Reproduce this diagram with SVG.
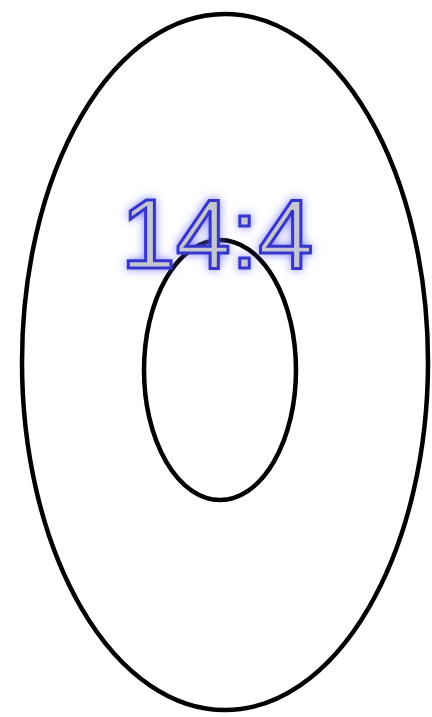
<svg xmlns="http://www.w3.org/2000/svg" width="432" height="717" viewBox="0 0 432 717">
<defs>
<style>
.ring{fill:none;stroke:#000;stroke-width:4.5}
.lbl{font-size:99px;fill:#c6c6d2;stroke:#3636cc;stroke-width:3}
</style>
<filter id="glow" x="-20%" y="-30%" width="140%" height="160%">
<feGaussianBlur in="SourceAlpha" stdDeviation="5" result="b"/>
<feFlood flood-color="#5a5aff" flood-opacity="0.75"/>
<feComposite in2="b" operator="in" result="g"/>
<feMerge><feMergeNode in="g"/><feMergeNode in="SourceGraphic"/></feMerge>
</filter>
</defs>
<rect width="432" height="717" fill="#fff"/>
<g id="outer"><ellipse class="ring" cx="225" cy="362" rx="203" ry="348"/></g>
<g id="inner"><ellipse class="ring" cx="220" cy="370" rx="76" ry="130"/></g>
<g id="label"><text class="lbl" font-family="Arial, 'Liberation Sans', sans-serif" x="217" y="268" text-anchor="middle" filter="url(#glow)">14:4</text></g>
</svg>
